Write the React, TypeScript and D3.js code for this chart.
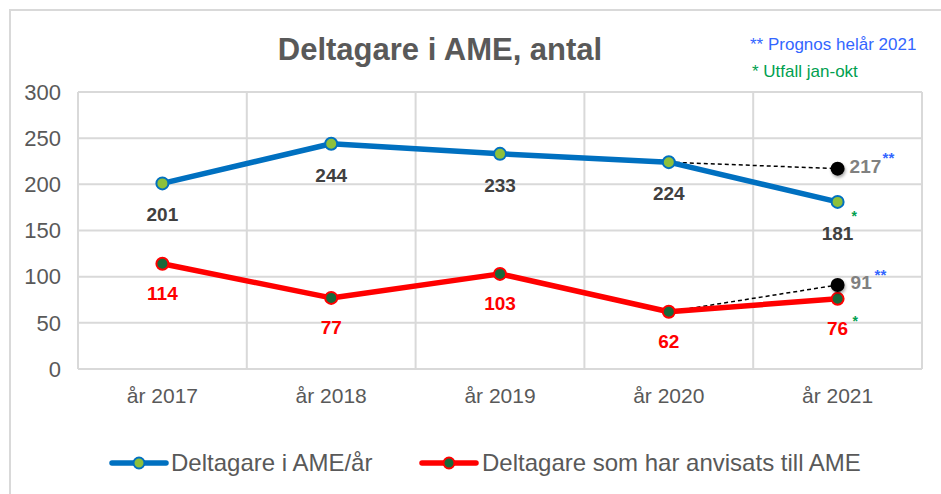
import React from 'react';
import * as d3 from 'd3';

const years = ['år 2017', 'år 2018', 'år 2019', 'år 2020', 'år 2021'];
const participants = [201, 244, 233, 224, 181];
const referred = [114, 77, 103, 62, 76];
const forecastParticipants = 217;
const forecastReferred = 91;
const yTicks = [0, 50, 100, 150, 200, 250, 300];

const FONT = 'Arial, "Liberation Sans", sans-serif';
const BLUE = '#0070c0';
const RED = '#ff0000';
const LIGHT_GREEN = '#8dc03c';
const DARK_GREEN = '#17693a';
const GRID = '#d9d9d9';
const TEXT = '#595959';

const App = () => {
  const width = 941;
  const height = 494;
  const margin = { top: 92, right: 20, bottom: 125, left: 78 };
  const plotRight = 922;
  const plotBottom = 369;

  const x = d3.scaleBand<string>().domain(years).range([margin.left, plotRight]);
  const y = d3.scaleLinear().domain([0, 300]).range([plotBottom, margin.top]);
  const cx = (i: number) => (x(years[i]) ?? 0) + x.bandwidth() / 2;

  const line = d3
    .line<number>()
    .x((_, i) => cx(i))
    .y(d => y(d));

  const last = years.length - 1;
  const prev = last - 1;

  return (
    <svg
      width={width}
      height={height}
      style={{ position: 'absolute', left: 0, top: 0, background: '#fff' }}
      fontFamily={FONT}
    >
      <defs>
        <filter id="shadow" x="-50%" y="-50%" width="200%" height="200%">
          <feDropShadow dx="1" dy="2" stdDeviation="1.5" floodColor="#000" floodOpacity="0.35" />
        </filter>
      </defs>
      {/* frame */}
      <rect x={10} y={10} width={width + 10} height={height + 10} fill="#fff" stroke={GRID} strokeWidth={2} />

      {/* title */}
      <text x={440} y={60} textAnchor="middle" fontSize={31} fontWeight="bold" fill={TEXT}>
        Deltagare i AME, antal
      </text>
      <text x={750} y={50} fontSize={17} fill="#3366ff">** Prognos helår 2021</text>
      <text x={752} y={77} fontSize={17} fill="#00a050">* Utfall jan-okt</text>

      {/* grid */}
      {yTicks.map(t => (
        <g key={t}>
          <line x1={margin.left} x2={plotRight} y1={y(t)} y2={y(t)} stroke={GRID} strokeWidth={2} />
          <text x={61} y={y(t)} dy="0.35em" textAnchor="end" fontSize={22} fill={TEXT}>
            {t}
          </text>
        </g>
      ))}
      {[...years.map(d => x(d) ?? 0), plotRight].map((v, i) => (
        <line key={i} x1={v} x2={v} y1={y(300)} y2={plotBottom} stroke={GRID} strokeWidth={2} />
      ))}
      {years.map((d, i) => (
        <text key={d} x={cx(i)} y={403} textAnchor="middle" fontSize={21} fill={TEXT}>
          {d}
        </text>
      ))}

      {/* forecast dashed lines */}
      <line
        x1={cx(prev)} y1={y(participants[prev])}
        x2={cx(last)} y2={y(forecastParticipants)}
        stroke="#000" strokeWidth={1.5} strokeDasharray="4,3"
      />
      <line
        x1={cx(prev)} y1={y(referred[prev])}
        x2={cx(last)} y2={y(forecastReferred)}
        stroke="#000" strokeWidth={1.5} strokeDasharray="4,3"
      />

      {/* series */}
      <path d={line(participants) ?? ''} fill="none" stroke={BLUE} strokeWidth={5.5} strokeLinejoin="round" />
      <path d={line(referred) ?? ''} fill="none" stroke={RED} strokeWidth={5.5} strokeLinejoin="round" />
      {participants.map((v, i) => (
        <circle key={'p' + i} cx={cx(i)} cy={y(v)} r={6} fill={LIGHT_GREEN} stroke={BLUE} strokeWidth={2} />
      ))}
      {referred.map((v, i) => (
        <circle key={'r' + i} cx={cx(i)} cy={y(v)} r={6} fill={DARK_GREEN} stroke={RED} strokeWidth={2} />
      ))}

      {/* forecast dots */}
      <circle cx={cx(last)} cy={y(forecastParticipants)} r={7} fill="#000" filter="url(#shadow)" />
      <circle cx={cx(last)} cy={y(forecastReferred)} r={7} fill="#000" filter="url(#shadow)" />

      {/* data labels */}
      {participants.map((v, i) => (
        <text key={'pl' + i} x={cx(i)} y={y(v) + 38} textAnchor="middle" fontSize={19} fontWeight="bold" fill="#404040">
          {v}
        </text>
      ))}
      {referred.map((v, i) => (
        <text key={'rl' + i} x={cx(i)} y={y(v) + 36} textAnchor="middle" fontSize={19} fontWeight="bold" fill={RED}>
          {v}
        </text>
      ))}
      <text x={cx(last) + 12} y={y(forecastParticipants) + 4} fontSize={19} fontWeight="bold" fill="#808080">
        {forecastParticipants}
      </text>
      <text x={cx(last) + 45} y={y(forecastParticipants) - 6} fontSize={15} fontWeight="bold" fill="#3366ff">**</text>
      <text x={cx(last) + 13} y={y(forecastReferred) + 4} fontSize={19} fontWeight="bold" fill="#808080">
        {forecastReferred}
      </text>
      <text x={cx(last) + 37} y={y(forecastReferred) - 5} fontSize={15} fontWeight="bold" fill="#3366ff">**</text>
      <text x={cx(last) + 14} y={y(participants[last]) + 19} fontSize={14} fontWeight="bold" fill="#00a050">*</text>
      <text x={cx(last) + 15} y={y(referred[last]) + 27} fontSize={14} fontWeight="bold" fill="#00a050">*</text>

      {/* legend */}
      <g transform="translate(0,463)">
        <line x1={112} x2={166} stroke={BLUE} strokeWidth={5.5} strokeLinecap="round" />
        <circle cx={139} r={5.5} fill={LIGHT_GREEN} stroke={BLUE} strokeWidth={2} />
        <text x={171} y={8} fontSize={24} fill={TEXT}>Deltagare i AME/år</text>
        <line x1={422} x2={476} stroke={RED} strokeWidth={5.5} strokeLinecap="round" />
        <circle cx={449} r={5.5} fill={DARK_GREEN} stroke={RED} strokeWidth={2} />
        <text x={482} y={8} fontSize={24} fill={TEXT}>Deltagare som har anvisats till AME</text>
      </g>
    </svg>
  );
};

export default App;
